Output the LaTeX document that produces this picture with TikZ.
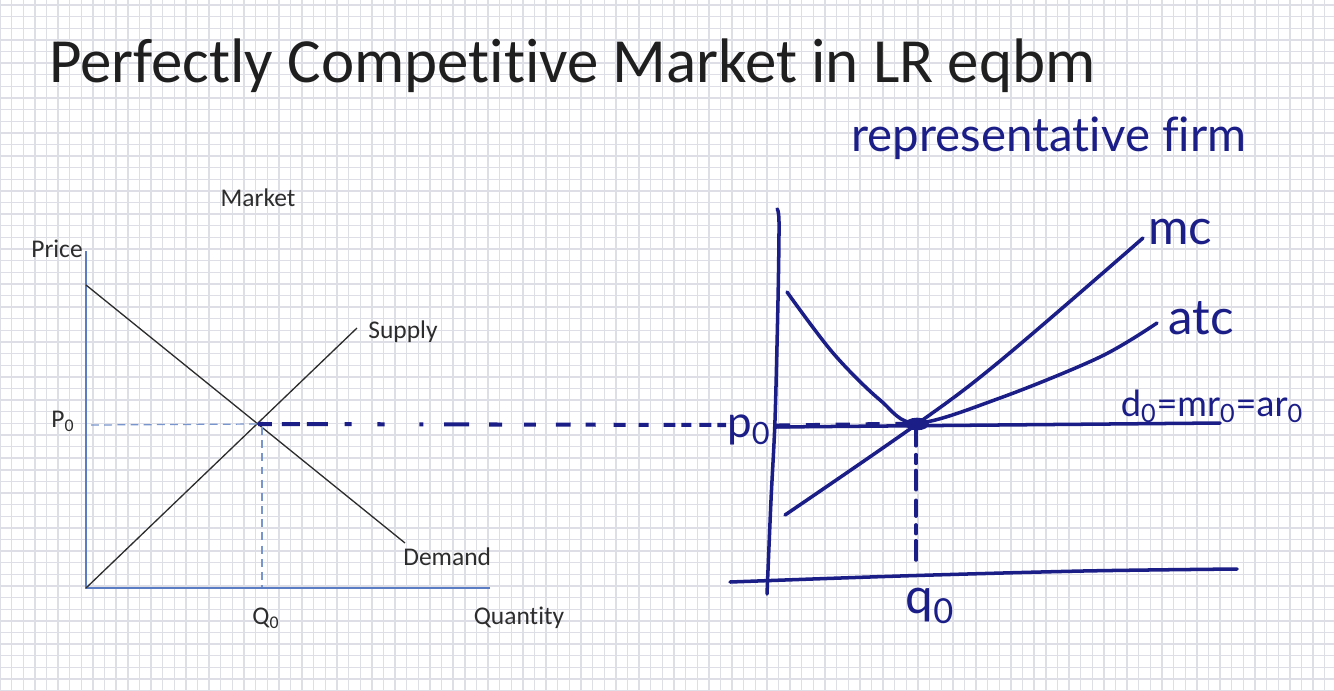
\documentclass[tikz,border=0pt]{standalone}
\usepackage{fontspec}
\setmainfont{Carlito}[Ligatures={NoCommon}]
\newfontfamily\hand{Lato}[Ligatures={NoCommon}]
\definecolor{navy}{RGB}{28,30,135}
\definecolor{axisblue}{RGB}{90,125,195}
\definecolor{dashblue}{RGB}{120,150,205}
\definecolor{gridc}{RGB}{222,222,230}
\definecolor{ink}{RGB}{45,45,45}
\begin{document}
\begin{tikzpicture}[x=0.02cm,y=-0.02cm,
  gridline/.style={draw=gridc,line width=0.8pt},
  axisL/.style={draw=axisblue,line width=1.1pt},
  curveL/.style={draw=ink,line width=0.75pt},
  guideL/.style={draw=dashblue,line width=0.7pt,dash pattern=on 4.5pt off 3pt},
  lbl/.style={font=\fontsize{14.5}{16}\selectfont,text=ink,inner sep=0pt},
  pen/.style={draw=navy,line width=2pt,line cap=round,line join=round},
  handtxt/.style={text=navy,inner sep=0pt,font=\hand}
]
\fill[white] (0,0) rectangle (1334,690);
\useasboundingbox (0,0) rectangle (1334,690);
\foreach \i in {0,...,115} \draw[gridline] (\i*11.62,0) -- (\i*11.62,690);
\foreach \j in {0,...,59} \draw[gridline] (0,5+\j*11.62) -- (1334,5+\j*11.62);

% title
\node[anchor=base west,inner sep=0pt,font=\fontsize{35.8}{40}\selectfont,text=black!88] (title) at (49,82) {Perfectly Competitive Market in LR eqbm};

% ---------------- left: market ----------------
\coordinate (Ltop) at (86,251);
\coordinate (LO) at (86,588);
\coordinate (Lxend) at (490,588);
\coordinate (Dstart) at (86,285);
\coordinate (Dend) at (405,543);
\coordinate (Send) at (357,328);
\coordinate (eqL) at (258,424);
\coordinate (P0guide) at (91,425);
\coordinate (Q0top) at (262,427);
\coordinate (Q0bot) at (262,587);

\draw[axisL] (Ltop) -- (LO) -- (Lxend);
\draw[curveL] (Dstart) -- (Dend);
\draw[curveL] (LO) -- (Send);
\draw[guideL] (P0guide) -- (eqL);
\draw[guideL] (Q0top) -- (Q0bot);

\node[lbl] (market) at (258,198) {Market};
\node[lbl] (price) at (57,249) {Price};
\node[lbl] (P0) at (63,421) {P\textsubscript{0}};
\node[lbl] (Q0) at (266,618) {Q\textsubscript{0}};
\node[lbl] (quantity) at (519,618) {Quantity};
\node[lbl,anchor=west] (supply) at (368,332) {Supply};
\node[lbl,anchor=west] (demand) at (403,557) {Demand};

% ---------------- right: representative firm ----------------
\node[handtxt,font=\hand\fontsize{27}{30}\selectfont] (rep) at (1049,138) {representative firm};

\coordinate (eqR) at (917,424);
\coordinate (p0left) at (726,425);
\coordinate (p0right) at (776,426);
\coordinate (q0top) at (916,430);
\coordinate (q0bot) at (916,567);
\coordinate (d0L) at (775,427);
\coordinate (d0R) at (1220,423);

% axes
\draw[pen] plot[smooth] coordinates {(777,209)(779,222)(778,300)(775,420)(771,500)(767,594)};
\draw[pen] plot[smooth] coordinates {(730,582)(900,576)(1083,571)(1237,569)};

% curves
\draw[pen] plot[smooth,tension=0.55] coordinates {(787,292)(833,353)(880,400)(917,423)(1000,398)(1100,357)(1157,323)};
\draw[pen] plot[smooth,tension=0.6] coordinates {(785,515)(917,424)(1000,361)(1143,238)};
\draw[pen] (d0L) -- (d0R);
\fill[navy] (eqR) ellipse [x radius=6.8pt, y radius=3.6pt];

% hand dashed connectors
\draw[pen,line width=2.3pt,line cap=butt,dash pattern=on 7.9pt off 5.7pt on 10.2pt off 4pt on 11.9pt off 9.6pt on 4pt off 14.7pt on 4pt off 19.8pt on 2.3pt off 11.9pt on 14.2pt off 11.3pt on 7.4pt off 12.5pt on 6.8pt off 11.3pt on 8.5pt off 8.5pt on 5.7pt off 10.2pt on 6.8pt off 7.4pt on 5.7pt off 8.5pt on 6.8pt off 3.4pt on 5.7pt off 4.5pt on 6.8pt off 3.4pt on 5.7pt off 20pt] (eqL) -- (p0left);
\draw[pen,line width=2.8pt,line cap=butt,dash pattern=on 8pt off 9pt] (p0right) -- (eqR);
\draw[pen,line width=2pt,dash pattern=on 9pt off 5pt on 5pt off 4pt on 11pt off 6pt] (q0top) -- (q0bot);

% hand labels
\node[handtxt,font=\hand\fontsize{25}{28}\selectfont] (p0) at (749,430) {p\textsubscript{0}};
\node[handtxt,font=\hand\fontsize{28}{30}\selectfont] (q0) at (930,606) {q\textsubscript{0}};
\node[handtxt,font=\hand\fontsize{28}{30}\selectfont] (mc) at (1180,232) {mc};
\node[handtxt,font=\hand\fontsize{28}{30}\selectfont] (atc) at (1201,318) {atc};
\node[handtxt,font=\hand\fontsize{20.5}{22}\selectfont] (d0) at (1212,406) {d\textsubscript{0}=mr\textsubscript{0}=ar\textsubscript{0}};
\end{tikzpicture}
\end{document}
